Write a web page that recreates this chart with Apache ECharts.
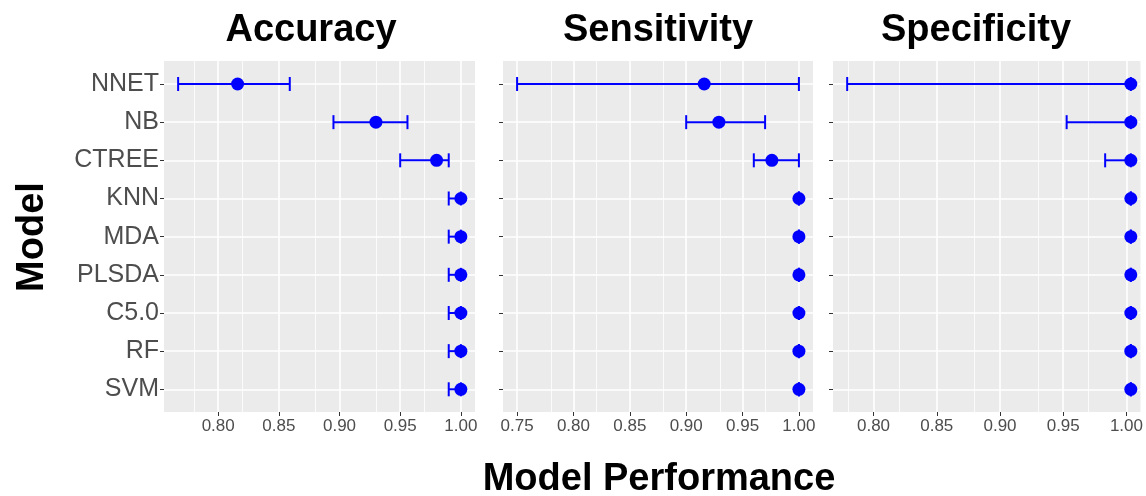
<!DOCTYPE html>
<html>
<head>
<meta charset="utf-8">
<script src="https://cdn.jsdelivr.net/npm/echarts@6/dist/echarts.min.js"></script>
<style>
html,body{margin:0;padding:0;background:#fff;}
#chart{width:1146px;height:496px;}
</style>
</head>
<body>
<div id="chart"></div>
<script>
// ---- data ----
const models = ['NNET','NB','CTREE','KNN','MDA','PLSDA','C5.0','RF','SVM'];
const panelTitles = ['Accuracy','Sensitivity','Specificity'];

const accuracy     = [0.816, 0.930, 0.980, 1.000, 1.000, 1.000, 1.000, 1.000, 1.000];
const accuracyLow  = [0.767, 0.895, 0.950, 0.990, 0.990, 0.990, 0.990, 0.990, 0.990];
const accuracyHigh = [0.859, 0.956, 0.990, 1.000, 1.000, 1.000, 1.000, 1.000, 1.000];

const sensitivity     = [0.916, 0.929, 0.976, 1.000, 1.000, 1.000, 1.000, 1.000, 1.000];
const sensitivityLow  = [0.750, 0.900, 0.960, 1.000, 1.000, 1.000, 1.000, 1.000, 1.000];
const sensitivityHigh = [1.000, 0.970, 1.000, 1.000, 1.000, 1.000, 1.000, 1.000, 1.000];

const specificity     = [1.000, 1.000, 1.000, 1.000, 1.000, 1.000, 1.000, 1.000, 1.000];
const specificityLow  = [0.779, 0.950, 0.980, 1.000, 1.000, 1.000, 1.000, 1.000, 1.000];
const specificityHigh = [1.000, 1.000, 1.000, 1.000, 1.000, 1.000, 1.000, 1.000, 1.000];

const accTicks  = [0.80, 0.85, 0.90, 0.95, 1.00];
const sensTicks = [0.75, 0.80, 0.85, 0.90, 0.95, 1.00];
const specTicks = [0.80, 0.85, 0.90, 0.95, 1.00];
const accMinor  = [0.775, 0.825, 0.875, 0.925, 0.975];
const sensMinor = [0.775, 0.825, 0.875, 0.925, 0.975];
const specMinor = [0.775, 0.825, 0.875, 0.925, 0.975];

// ---- layout ----
const panels = [
  {left: 164, width: 311, titleX: 311, value: accuracy, low: accuracyLow, high: accuracyHigh, ticks: accTicks, minor: accMinor},
  {left: 503, width: 310, titleX: 658, value: sensitivity, low: sensitivityLow, high: sensitivityHigh, ticks: sensTicks, minor: sensMinor},
  {left: 833, width: 312, titleX: 976, value: specificity, low: specificityLow, high: specificityHigh, ticks: specTicks, minor: specMinor}
];
const OUTER_TOP = 61, OUTER_H = 351;
const INNER_TOP = 84, INNER_H = 305.3;
const FONT = '"Liberation Sans", Arial, sans-serif';
const BLUE = '#0000FF';

const grid = [], xAxis = [], yAxis = [], series = [], graphic = [];

panels.forEach((p, i) => {
  const lo = Math.min(...p.low, ...p.value);
  const hi = Math.max(...p.high, ...p.value);
  const pad = (hi - lo) * 0.05;
  const xmin = lo - pad, xmax = hi + pad;
  const oi = 2 * i, ii = 2 * i + 1;

  grid.push({left: p.left, width: p.width, top: OUTER_TOP, height: OUTER_H,
    show: true, backgroundColor: '#EBEBEB', borderWidth: 0, z: -1});
  grid.push({left: p.left, width: p.width, top: INNER_TOP, height: INNER_H,
    show: false, borderWidth: 0});

  xAxis.push({
    gridIndex: oi, type: 'value', min: xmin, max: xmax,
    axisLine: {show: false},
    axisTick: {show: true, customValues: p.ticks, length: 4, lineStyle: {color: '#333333', width: 1}},
    axisLabel: {show: true, customValues: p.ticks, formatter: v => Number(v).toFixed(2),
      color: '#4D4D4D', fontSize: 17, fontFamily: FONT, margin: 6},
    splitLine: {show: false}
  });
  xAxis.push({gridIndex: ii, type: 'value', min: xmin, max: xmax, show: false,
    splitLine: {show: false}});

  yAxis.push({gridIndex: oi, type: 'value', min: 0, max: 1, show: false,
    splitLine: {show: false}});
  yAxis.push({
    gridIndex: ii, type: 'category', data: models, inverse: true, boundaryGap: false,
    axisLine: {show: false},
    axisTick: {show: true, length: 4, lineStyle: {color: '#333333', width: 1}},
    axisLabel: {show: i === 0, color: '#4D4D4D', fontSize: 25, fontFamily: FONT, margin: 5},
    splitLine: {show: true, lineStyle: {color: '#FFFFFF', width: 1.6}}
  });

  // vertical grid lines (major + minor) across full panel
  const ml = [];
  p.minor.forEach(v => { if (v > xmin && v < xmax) ml.push({xAxis: v, lineStyle: {color: '#FFFFFF', width: 0.8, type: 'solid'}}); });
  p.ticks.forEach(v => ml.push({xAxis: v, lineStyle: {color: '#FFFFFF', width: 1.6, type: 'solid'}}));
  series.push({
    type: 'scatter', xAxisIndex: oi, yAxisIndex: oi, data: [[p.ticks[0], 0.5]],
    symbolSize: 0, silent: true, z: 0,
    markLine: {silent: true, z: 0, symbol: ['none', 'none'], label: {show: false}, animation: false, data: ml}
  });

  // error bars
  const ebData = models.map((m, k) => [p.low[k], p.high[k], k]);
  series.push({
    type: 'custom', xAxisIndex: ii, yAxisIndex: ii, data: ebData, z: 6, silent: true,
    encode: {x: [0, 1], y: 2},
    renderItem: (params, api) => {
      const a = api.coord([api.value(0), api.value(2)]);
      const b = api.coord([api.value(1), api.value(2)]);
      const cap = 7;
      const st = {stroke: BLUE, lineWidth: 2};
      return {type: 'group', children: [
        {type: 'line', shape: {x1: a[0], y1: a[1], x2: b[0], y2: b[1]}, style: st},
        {type: 'line', shape: {x1: a[0], y1: a[1] - cap, x2: a[0], y2: a[1] + cap}, style: st},
        {type: 'line', shape: {x1: b[0], y1: b[1] - cap, x2: b[0], y2: b[1] + cap}, style: st}
      ]};
    }
  });

  // points
  series.push({
    type: 'scatter', xAxisIndex: ii, yAxisIndex: ii, z: 7, silent: true,
    data: models.map((m, k) => [p.value[k], k]),
    symbol: 'circle', symbolSize: 13, itemStyle: {color: BLUE, opacity: 1}
  });

  graphic.push({type: 'text', x: p.titleX, y: 31, silent: true,
    style: {text: panelTitles[i], font: 'bold 38px ' + FONT, fill: '#000', textAlign: 'center', textVerticalAlign: 'middle'}});
});

graphic.push({type: 'text', x: 659, y: 480, silent: true,
  style: {text: 'Model Performance', font: 'bold 38px ' + FONT, fill: '#000', textAlign: 'center', textVerticalAlign: 'middle'}});
graphic.push({type: 'text', x: 33, y: 237, rotation: Math.PI / 2, silent: true,
  style: {text: 'Model', font: 'bold 38px ' + FONT, fill: '#000', textAlign: 'center', textVerticalAlign: 'middle'}});

const chart = echarts.init(document.getElementById('chart'), null, {renderer: 'canvas'});
chart.setOption({
  animation: false,
  backgroundColor: '#FFFFFF',
  grid, xAxis, yAxis, series, graphic
});
</script>
</body>
</html>
